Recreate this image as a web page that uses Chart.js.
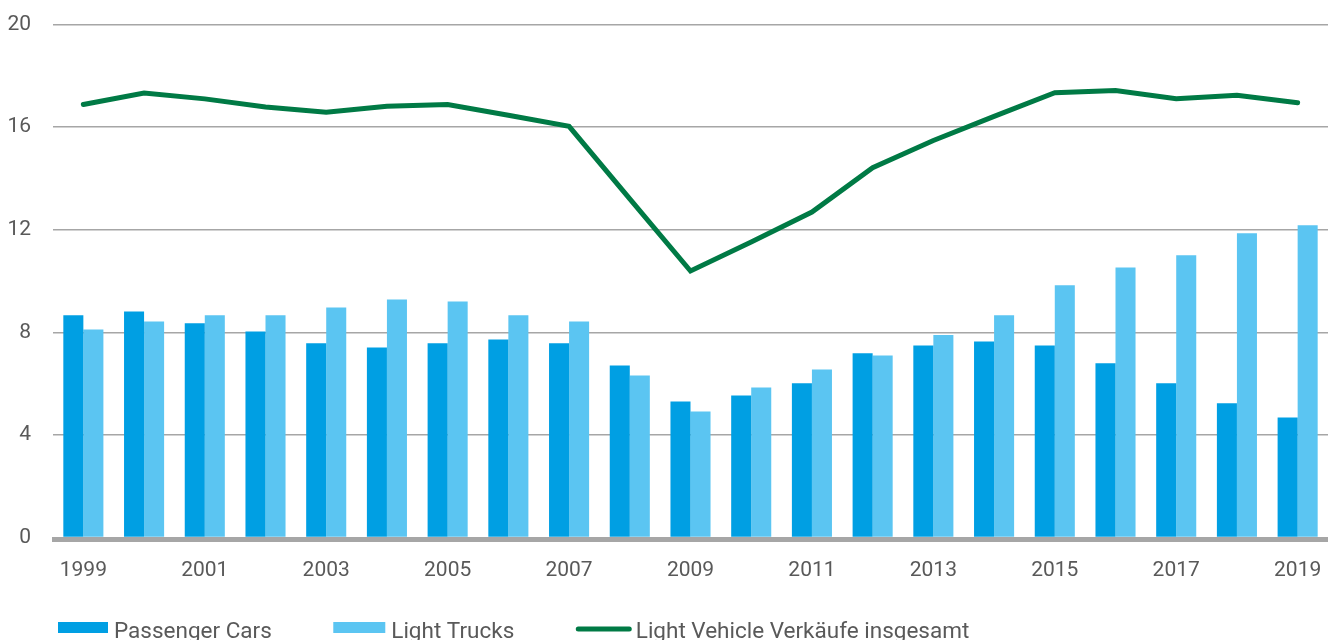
<!DOCTYPE html>
<html>
<head>
<meta charset="utf-8">
<script src="https://cdn.jsdelivr.net/npm/chart.js@4.4.1/dist/chart.umd.min.js"></script>
<style>
  html, body { margin: 0; padding: 0; background: #ffffff; }
  #wrap { width: 1335px; height: 640px; position: relative; }
  canvas { display: block; }
</style>
</head>
<body>
<div id="wrap"><canvas id="c" width="1335" height="640"></canvas></div>
<script>
const years = ["1999","2000","2001","2002","2003","2004","2005","2006","2007","2008","2009","2010","2011","2012","2013","2014","2015","2016","2017","2018","2019"];
const passengerCars = [8.66, 8.81, 8.35, 8.03, 7.57, 7.41, 7.57, 7.72, 7.57, 6.71, 5.30, 5.54, 6.01, 7.18, 7.49, 7.64, 7.49, 6.79, 6.01, 5.23, 4.68];
const lightTrucks   = [8.11, 8.42, 8.66, 8.66, 8.97, 9.28, 9.20, 8.66, 8.42, 6.32, 4.91, 5.85, 6.55, 7.10, 7.89, 8.66, 9.83, 10.53, 11.00, 11.86, 12.17];
const totalSales    = [16.88, 17.33, 17.10, 16.78, 16.58, 16.81, 16.88, 16.46, 16.03, 13.20, 10.39, 11.52, 12.69, 14.42, 15.48, 16.42, 17.34, 17.43, 17.11, 17.24, 16.95];
const yTicks = [0, 4, 8, 12, 16, 20];
const seriesNames = ["Passenger Cars", "Light Trucks", "Light Vehicle Verkäufe insgesamt"];

const TEXT = '#595959';
const FONT = 'Roboto, "Liberation Sans", sans-serif';

const baselinePlugin = {
  id: 'baseline',
  afterDatasetsDraw(chart) {
    const { ctx, chartArea, scales } = chart;
    const y0 = scales.y.getPixelForValue(0);
    ctx.save();
    ctx.fillStyle = '#a6a6a6';
    ctx.fillRect(chartArea.left - 1, y0 - 0.5, chartArea.right - chartArea.left + 1, 5);
    ctx.restore();
  }
};

const legendPlugin = {
  id: 'customLegend',
  afterDraw(chart) {
    const { ctx } = chart;
    const ds = chart.data.datasets;
    ctx.save();
    ctx.font = '22.5px ' + FONT;
    ctx.textBaseline = 'alphabetic';
    ctx.textAlign = 'left';
    let x = 58;
    const boxW = 50, boxTop = 622, boxH = 11, gapText = 6, gapItem = 61.5, baseY = 637.5;
    ds.forEach((d, i) => {
      if (d.type === 'line') {
        ctx.strokeStyle = d.borderColor;
        ctx.lineWidth = 5;
        ctx.lineCap = 'round';
        ctx.beginPath();
        ctx.moveTo(x + 2.5, 629);
        ctx.lineTo(x + 53.5, 629);
        ctx.stroke();
        x += 56;
        x += gapText - 2;
      } else {
        ctx.fillStyle = d.backgroundColor;
        ctx.fillRect(x, boxTop, boxW + (i === 1 ? 2 : 0), boxH);
        x += boxW + (i === 1 ? 2 : 0);
        x += gapText;
      }
      ctx.fillStyle = TEXT;
      ctx.fillText(d.label, x, baseY);
      x += ctx.measureText(d.label).width + gapItem;
    });
    ctx.restore();
  }
};

new Chart(document.getElementById('c'), {
  data: {
    labels: years,
    datasets: [
      { type: 'bar', label: seriesNames[0], data: passengerCars, backgroundColor: '#009fe3', order: 2,
        categoryPercentage: 0.66, barPercentage: 1.0 },
      { type: 'bar', label: seriesNames[1], data: lightTrucks, backgroundColor: '#5bc5f2', order: 2,
        categoryPercentage: 0.66, barPercentage: 1.0 },
      { type: 'line', label: seriesNames[2], data: totalSales, borderColor: '#007a45', backgroundColor: '#007a45',
        borderWidth: 5, pointRadius: 0, tension: 0, borderCapStyle: 'round', borderJoinStyle: 'miter', order: 0 }
    ]
  },
  options: {
    responsive: false,
    animation: false,
    devicePixelRatio: 1,
    layout: { padding: { top: 24.5, right: 7, bottom: 0, left: 0 } },
    plugins: { legend: { display: false }, tooltip: { enabled: false } },
    scales: {
      x: {
        grid: { display: false, drawTicks: false },
        border: { display: false },
        ticks: {
          autoSkip: false, maxRotation: 0, padding: 21,
          color: TEXT, font: { family: FONT, size: 21 },
          callback: function(v, i) { return i % 2 === 0 ? this.getLabelForValue(v) : ''; }
        },
        afterFit(scale) { scale.height = 102.5; scale.paddingLeft = 0; scale.paddingRight = 0; }
      },
      y: {
        min: 0, max: 20,
        afterBuildTicks(scale) { scale.ticks = yTicks.map(v => ({ value: v })); },
        grid: { color: '#a6a6a6', lineWidth: 1.5, drawTicks: false },
        border: { display: false },
        ticks: { padding: 22, color: TEXT, font: { family: FONT, size: 21 } },
        afterFit(scale) { scale.width = 53; scale.paddingTop = 0; scale.paddingBottom = 0; }
      }
    }
  },
  plugins: [baselinePlugin, legendPlugin]
});
</script>
</body>
</html>
